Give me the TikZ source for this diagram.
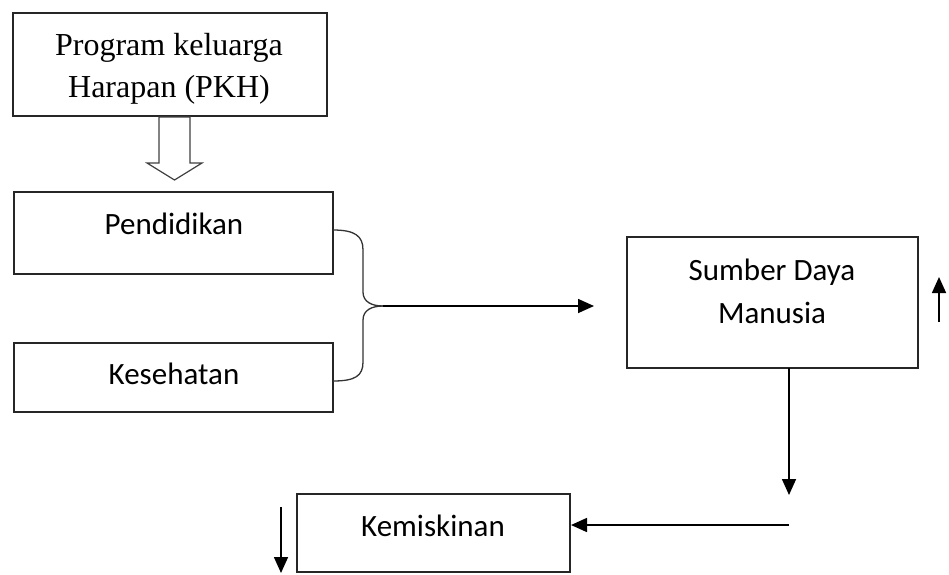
\documentclass[tikz,border=0pt]{standalone}
\usepackage{fontspec}
\setmainfont{Liberation Serif}
\newfontfamily\calibri{Carlito}
\usetikzlibrary{arrows.meta}
\begin{document}
\begin{tikzpicture}[x=1pt,y=-1pt,
  box/.style={draw=black!85,line width=1.6pt,inner sep=0pt},
  lbl/.style={inner sep=0pt,align=center,anchor=base,font=\calibri\fontsize{31}{43}\selectfont},
  conn/.style={draw=black,line width=1.6pt},
  brc/.style={draw=black!80,line width=1.3pt},
  arr/.style={conn,-{Triangle[length=16pt,width=14pt]}}]
\useasboundingbox (0,0) rectangle (949,574);
% boxes
\draw[box] (13,13) rectangle (327,116);
\node[inner sep=0pt,align=center,anchor=base,font=\fontsize{32}{42}\selectfont] (pkh) at (169,97) {Program keluarga\\Harapan (PKH)};
\draw[box] (14,192) rectangle (333,274);
\node[lbl] (pend) at (174,234) {Pendidikan};
\draw[box] (14,343) rectangle (333,412);
\node[lbl] (kes) at (174,384) {Kesehatan};
\draw[box] (627,237) rectangle (918,368);
\node[lbl] (sdm) at (772,323) {Sumber Daya\\Manusia};
\draw[box] (297,494) rectangle (570,572);
\node[lbl] (kem) at (433,536) {Kemiskinan};
% hollow arrow
\draw[draw=black!75,line width=1.2pt,fill=white] (159,117) -- (190,117) -- (190,163) -- (202,163) -- (174.5,180) -- (147,163) -- (159,163) -- cycle;
% brace
\coordinate (bm) at (383,306);
\draw[brc] (333,230) .. controls (355,230) and (363,236) .. (363,250) -- (363,292) .. controls (363,302) and (372,306) .. (bm);
\draw[brc] (333,381) .. controls (355,381) and (363,376) .. (363,362) -- (363,320) .. controls (363,310) and (372,306) .. (bm);
\coordinate (brEnd) at (594,306);
\draw[arr] (bm) -- (brEnd);
% SDM down
\coordinate (dEnd) at (789,495);
\draw[arr] (789,368) -- (dEnd);
% to Kemiskinan
\coordinate (hStart) at (789,525);
\coordinate (kemR) at (571,525);
\draw[arr] (hStart) -- (kemR);
% up arrow
\coordinate (u1) at (939,322);
\coordinate (u2) at (939,277);
\draw[arr] (u1) -- (u2);
% down arrow left
\coordinate (d1) at (281,507);
\coordinate (d2) at (281,573);
\draw[arr] (d1) -- (d2);
\end{tikzpicture}
\end{document}
